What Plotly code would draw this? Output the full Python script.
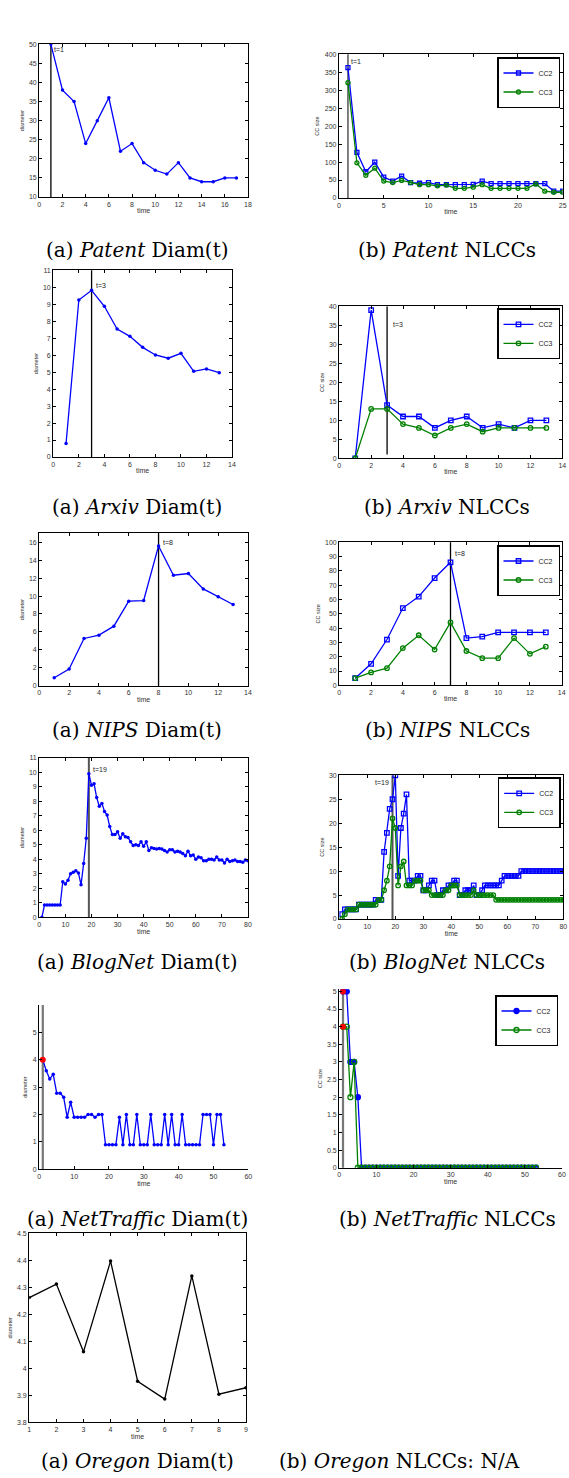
import plotly.graph_objects as go

W, H = 569, 1478
BLUE = "#0000ff"
GREEN = "#008000"
SANS = "Liberation Sans, Arial, sans-serif"
TICKFONT = dict(family=SANS, size=7, color="#333333")
XTITLEFONT = dict(family=SANS, size=7, color="#333333")
YTITLEFONT = dict(family=SANS, size=5.5, color="#333333")

# ---------------- data ----------------
patent_t = [1, 2, 3, 4, 5, 6, 7, 8, 9, 10, 11, 12, 13, 14, 15, 16, 17]
patent_diam = [50, 38, 35, 24, 30, 36, 22, 24, 19, 17, 16, 19, 15, 14, 14, 15, 15]

patent_nl_t = [1, 2, 3, 4, 5, 6, 7, 8, 9, 10, 11, 12, 13, 14, 15, 16, 17, 18, 19, 20, 21, 22, 23, 24, 25]
patent_cc2 = [363, 127, 73, 100, 58, 47, 61, 43, 41, 43, 37, 37, 37, 37, 38, 47, 40, 40, 40, 40, 40, 40, 40, 19, 19]
patent_cc3 = [321, 98, 63, 83, 47, 43, 49, 43, 37, 37, 34, 36, 27, 27, 30, 37, 27, 27, 27, 27, 27, 39, 19, 16, 16]

arxiv_t = [1, 2, 3, 4, 5, 6, 7, 8, 9, 10, 11, 12, 13]
arxiv_diam = [0.8, 9.25, 9.82, 8.88, 7.54, 7.11, 6.46, 6.01, 5.82, 6.11, 5.05, 5.19, 4.97]
arxiv_cc2 = [0, 39, 14, 11, 11, 8, 10, 11, 8, 9, 8, 10, 10]
arxiv_cc3 = [0, 13, 13, 9, 8, 6, 8, 9, 7, 8, 8, 8, 8]

nips_t = [1, 2, 3, 4, 5, 6, 7, 8, 9, 10, 11, 12, 13]
nips_diam = [0.89, 1.86, 5.27, 5.64, 6.64, 9.43, 9.5, 15.59, 12.32, 12.51, 10.8, 9.91, 9.06]
nips_cc2 = [5, 15, 32, 54, 62, 75, 86, 33, 34, 37, 37, 37, 37]
nips_cc3 = [5, 9, 12, 26, 35, 25, 44, 24, 19, 19, 33, 22, 27]

blog_t = list(range(1, 81))
blog_diam = [0, 0.85, 0.85, 0.85, 0.85, 0.85, 0.85, 0.85, 2.45, 2.3,
             2.55, 3.0, 3.1, 3.2, 3.05, 2.25, 3.7, 5.45, 9.9, 9.1,
             9.2, 8.25, 7.65, 7.85, 7.3, 7.05, 6.25, 5.7, 5.7, 5.9,
             5.45, 5.75, 5.55, 5.5, 5.2, 4.95, 5.0, 4.95, 5.2, 4.9,
             5.2, 4.6, 4.8, 4.75, 4.7, 4.75, 4.7, 4.6, 4.5, 4.65,
             4.65, 4.5, 4.55, 4.5, 4.4, 4.25, 4.55, 4.25, 4.3, 4.0,
             4.15, 4.1, 3.9, 3.9, 4.0, 4.0, 3.95, 4.15, 3.95, 3.95,
             3.75, 4.0, 3.85, 3.9, 3.95, 3.85, 3.85, 3.8, 3.95, 3.9]
blog_cc2 = [1, 2, 2, 2, 2, 2, 3, 3, 3, 3,
            3, 3, 4, 4, 4, 14, 18, 23, 25, 30,
            9, 19, 22, 26, 8, 8, 8, 9, 9, 6,
            6, 7, 8, 8, 5, 5, 6, 6, 7, 7,
            8, 8, 5, 5, 6, 6, 6, 7, 5, 5,
            6, 7, 7, 7, 7, 7, 7, 8, 9, 9,
            9, 9, 9, 9, 10, 10, 10, 10, 10, 10,
            10, 10, 10, 10, 10, 10, 10, 10, 10, 10]
blog_cc3 = [0, 1, 2, 2, 2, 2, 3, 3, 3, 3,
            3, 3, 3, 4, 4, 6, 8, 11, 21, 19,
            7, 11, 12, 7, 7, 7, 8, 8, 8, 6,
            6, 6, 5, 5, 5, 5, 5, 6, 6, 7,
            7, 7, 5, 5, 5, 5, 5, 6, 5, 5,
            5, 5, 5, 5, 5, 4, 4, 4, 4, 4,
            4, 4, 4, 4, 4, 4, 4, 4, 4, 4,
            4, 4, 4, 4, 4, 4, 4, 4, 4, 4]

net_t = list(range(1, 54))
net_diam = [4.0, 3.6, 3.3, 3.47, 2.78, 2.78, 2.63, 1.9, 2.45, 1.9,
            1.9, 1.9, 1.9, 2.0, 2.0, 1.9, 2.0, 2.0, 0.9, 0.9,
            0.9, 0.9, 1.9, 0.9, 2.0, 0.9, 0.9, 2.0, 0.9, 0.9,
            0.9, 2.0, 0.9, 0.9, 0.9, 2.0, 0.9, 2.0, 0.9, 0.9,
            2.0, 0.9, 0.9, 0.9, 0.9, 0.9, 2.0, 2.0, 2.0, 0.9,
            2.0, 2.0, 0.9]
net_cc2 = [5, 5, 3, 3, 2, 0, 0, 0, 0, 0,
           0, 0, 0, 0, 0, 0, 0, 0, 0, 0,
           0, 0, 0, 0, 0, 0, 0, 0, 0, 0,
           0, 0, 0, 0, 0, 0, 0, 0, 0, 0,
           0, 0, 0, 0, 0, 0, 0, 0, 0, 0,
           0, 0, 0]
net_cc3 = [4, 4, 2, 3, 0, 0, 0, 0, 0, 0,
           0, 0, 0, 0, 0, 0, 0, 0, 0, 0,
           0, 0, 0, 0, 0, 0, 0, 0, 0, 0,
           0, 0, 0, 0, 0, 0, 0, 0, 0, 0,
           0, 0, 0, 0, 0, 0, 0, 0, 0, 0,
           0, 0, 0]

oregon_t = [1, 2, 3, 4, 5, 6, 7, 8, 9]
oregon_diam = [4.262, 4.312, 4.061, 4.397, 3.952, 3.886, 4.342, 3.904, 3.928]

# marker time for each panel (vertical line + label text)
patent_mark, patent_label = 1, "t=1"
arxiv_mark, arxiv_label = 3, "t=3"
nips_diam_mark, nips_nl_mark, nips_label = 8, 7, "t=8"
blog_mark, blog_label = 19, "t=19"
net_mark = 1

captions_a = ["(a) <i>Patent</i> Diam(t)", "(a) <i>Arxiv</i> Diam(t)", "(a) <i>NIPS</i> Diam(t)",
              "(a) <i>BlogNet</i> Diam(t)", "(a) <i>NetTraffic</i> Diam(t)", "(a) <i>Oregon</i> Diam(t)"]
captions_b = ["(b) <i>Patent</i> NLCCs", "(b) <i>Arxiv</i> NLCCs", "(b) <i>NIPS</i> NLCCs",
              "(b) <i>BlogNet</i> NLCCs", "(b) <i>NetTraffic</i> NLCCs", "(b) <i>Oregon</i> NLCCs: N/A"]

# ---------------- layout helpers ----------------
fig = go.Figure()
layout = {}
shapes = []
annotations = []


def ref(i, a):
    return a + ("" if i == 1 else str(i))


def axname(i, a):
    return a + "axis" + ("" if i == 1 else str(i))


def setup(i, xpx, ypx, xrange, xdtick, yrange, ydtick, ytitle, box=True, ytick0=None):
    common = dict(showline=True, linecolor="black", linewidth=1.3, ticks="inside", ticklen=3,
                  tickwidth=1, tickcolor="black", tickfont=TICKFONT, showgrid=False,
                  zeroline=False, automargin=False, mirror="ticks" if box else False,
                  fixedrange=True)
    layout[axname(i, "x")] = dict(domain=[xpx[0] / W, xpx[1] / W], range=xrange, dtick=xdtick,
                                  tick0=xrange[0], anchor=ref(i, "y"),
                                  title=dict(text="time", font=XTITLEFONT, standoff=1), **common)
    layout[axname(i, "y")] = dict(domain=[1 - ypx[1] / H, 1 - ypx[0] / H], range=yrange,
                                  dtick=ydtick, tick0=yrange[0] if ytick0 is None else ytick0,
                                  anchor=ref(i, "x"),
                                  title=dict(text=ytitle, font=YTITLEFONT, standoff=4), **common)


def vline(i, t, color="black", width=1.3, y0=0, y1=1, domain=True):
    shapes.append(dict(type="line", xref=ref(i, "x"),
                       yref=ref(i, "y") + (" domain" if domain else ""),
                       x0=t, x1=t, y0=y0, y1=y1, line=dict(color=color, width=width), layer="below"))


def label(i, x, y, text, anchor="left"):
    annotations.append(dict(xref=ref(i, "x"), yref=ref(i, "y"), x=x, y=y, text=text, showarrow=False,
                            xanchor=anchor, yanchor="middle",
                            font=dict(family=SANS, size=7, color="#222222")))


def diam_trace(i, x, y, color=BLUE):
    fig.add_trace(go.Scatter(x=x, y=y, xaxis=ref(i, "x"), yaxis=ref(i, "y"), mode="lines+markers",
                             line=dict(color=color, width=1.3),
                             marker=dict(symbol="circle", size=3.5, color=color),
                             showlegend=False, hoverinfo="skip"))


def nlcc_traces(i, x, y2, y3, leg, sym2="square-open", sym3="circle-open", size=4.5):
    fig.add_trace(go.Scatter(x=x, y=y2, xaxis=ref(i, "x"), yaxis=ref(i, "y"), mode="lines+markers",
                             name="CC2", legend=leg, line=dict(color=BLUE, width=1.3),
                             marker=dict(symbol=sym2, size=size, color=BLUE, line=dict(width=1.3, color=BLUE)),
                             hoverinfo="skip"))
    fig.add_trace(go.Scatter(x=x, y=y3, xaxis=ref(i, "x"), yaxis=ref(i, "y"), mode="lines+markers",
                             name="CC3", legend=leg, line=dict(color=GREEN, width=1.3),
                             marker=dict(symbol=sym3, size=size, color=GREEN, line=dict(width=1.3, color=GREEN)),
                             hoverinfo="skip"))


def legend_box(right_px, top_px):
    return dict(x=right_px / W, y=1 - top_px / H, xanchor="right", yanchor="top",
                bgcolor="white", bordercolor="black", borderwidth=1.5,
                font=dict(family=SANS, size=7, color="#222222"), itemwidth=30,
                tracegroupgap=0, itemclick=False, itemdoubleclick=False)


# ---------------- panels ----------------
# 1 Patent Diam
setup(1, (39.3, 248), (44.3, 197), [0, 18], 2, [10, 50], 5, "diameter")
diam_trace(1, patent_t, patent_diam)
vline(1, patent_mark)
label(1, patent_mark + 0.1, 48.7, patent_label)

# 2 Patent NLCC
setup(2, (339, 562.7), (54.3, 198), [0, 25], 5, [0, 400], 50, "CC size")
nlcc_traces(2, patent_nl_t, patent_cc2, patent_cc3, "legend", size=4)
vline(2, patent_mark, color="#555555", width=1.5)
label(2, patent_mark + 0.15, 381, patent_label)

# 3 Arxiv Diam
setup(3, (53.3, 232), (270.3, 457), [0, 14], 2, [0, 11], 1, "diameter")
diam_trace(3, arxiv_t, arxiv_diam)
vline(3, arxiv_mark)
label(3, arxiv_mark + 0.15, 10.1, arxiv_label)

# 4 Arxiv NLCC
setup(4, (339.3, 562.3), (306.3, 458.3), [0, 14], 2, [0, 40], 5, "CC size")
nlcc_traces(4, arxiv_t, arxiv_cc2, arxiv_cc3, "legend2")
vline(4, arxiv_mark, y0=1, y1=40, domain=False)
label(4, arxiv_mark + 0.25, 35.2, arxiv_label)

# 5 NIPS Diam
setup(5, (39.3, 248), (533.3, 685.7), [0, 14], 2, [0, 17], 2, "diameter")
diam_trace(5, nips_t, nips_diam)
vline(5, nips_diam_mark)
label(5, nips_diam_mark + 0.15, 16.0, nips_label)

# 6 NIPS NLCC
setup(6, (339.3, 561.7), (542.3, 685.3), [0, 14], 2, [0, 100], 10, "CC size")
nlcc_traces(6, nips_t, nips_cc2, nips_cc3, "legend3")
vline(6, nips_nl_mark)
label(6, nips_nl_mark + 0.15, 92.3, nips_label)

# 7 BlogNet Diam
setup(7, (39.3, 248), (757.7, 917.3), [0, 80], 10, [0, 11], 1, "diameter")
diam_trace(7, blog_t, blog_diam)
vline(7, blog_mark, color="#555555", width=2)
label(7, blog_mark + 0.8, 10.2, blog_label)

# 8 BlogNet NLCC
setup(8, (339.3, 563.3), (775.3, 919), [0, 80], 10, [0, 30], 5, "CC size")
nlcc_traces(8, blog_t, blog_cc2, blog_cc3, "legend4", size=4.5)
vline(8, blog_mark, color="#555555", width=2)
label(8, blog_mark - 0.7, 28.5, blog_label, anchor="right")

# 9 NetTraffic Diam
setup(9, (39.3, 248.3), (1005, 1169.3), [0, 60], 10, [0, 6], 1, "diameter", box=False)
layout["yaxis9"]["tickvals"] = [0, 1, 2, 3, 4, 5]
vline(9, net_mark, color="#777777", width=2.2)
diam_trace(9, net_t, net_diam)
fig.add_trace(go.Scatter(x=net_t[:1], y=net_diam[:1], xaxis="x9", yaxis="y9", mode="markers",
                         marker=dict(symbol="circle", size=6, color="red"), showlegend=False,
                         hoverinfo="skip"))

# 10 NetTraffic NLCC
setup(10, (339.3, 562), (989.3, 1167.7), [0, 60], 10, [0, 5.06], 0.5, "CC size", box=False)
vline(10, net_mark, color="#777777", width=2.2)
nlcc_traces(10, net_t, net_cc2, net_cc3, "legend5", sym2="circle", sym3="circle-open", size=5)
fig.add_trace(go.Scatter(x=[net_t[0], net_t[0]], y=[net_cc2[0], net_cc3[0]], xaxis="x10", yaxis="y10",
                         mode="markers", marker=dict(symbol="circle", size=6, color="red"),
                         showlegend=False, hoverinfo="skip"))

# 11 Oregon Diam
setup(11, (29.3, 246), (1233.3, 1422.3), [1, 9], 1, [3.8, 4.5], 0.1, "diameter")
diam_trace(11, oregon_t, oregon_diam, color="black")

# ---------------- captions ----------------
cap_y = [250, 507, 730, 962, 1219, 1461]
CAPFONT = dict(family="DejaVu Serif, serif", size=20, color="black")
for k, yc in enumerate(cap_y):
    annotations.append(dict(xref="paper", yref="paper", x=137 / W, y=1 - yc / H, text=captions_a[k],
                            showarrow=False, xanchor="center", yanchor="middle", font=CAPFONT))
    if k < 5:
        annotations.append(dict(xref="paper", yref="paper", x=447 / W, y=1 - yc / H, text=captions_b[k],
                                showarrow=False, xanchor="center", yanchor="middle", font=CAPFONT))
    else:
        annotations.append(dict(xref="paper", yref="paper", x=277 / W, y=1 - yc / H, text=captions_b[k],
                                showarrow=False, xanchor="left", yanchor="middle", font=CAPFONT))

layout.update(
    width=W, height=H, margin=dict(l=0, r=0, t=0, b=0),
    paper_bgcolor="white", plot_bgcolor="white",
    shapes=shapes, annotations=annotations,
    legend=legend_box(560, 57),
    legend2=legend_box(560, 308.3),
    legend3=legend_box(560, 545),
    legend4=legend_box(560.7, 777.3),
    legend5=legend_box(558, 995),
)
fig.update_layout(**layout)
fig.write_html("out.html")
